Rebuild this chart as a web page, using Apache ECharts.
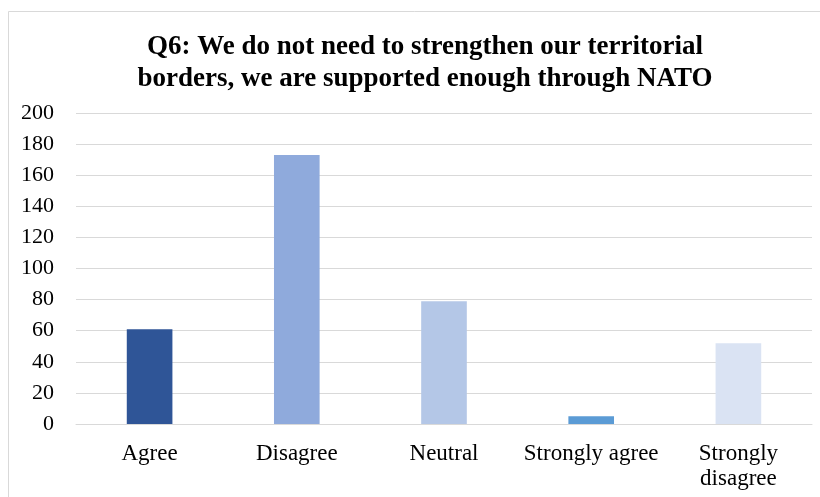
<!DOCTYPE html>
<html>
<head>
<meta charset="utf-8">
<script src="https://cdn.jsdelivr.net/npm/echarts@6/dist/echarts.min.js"></script>
<style>html,body{margin:0;padding:0;background:#fff}#c{width:820px;height:497px}</style>
</head>
<body>
<div id="c"></div>
<script>
const titleText = "Q6: We do not need to strengthen our territorial\nborders, we are supported enough through NATO";
const categories = ["Agree", "Disagree", "Neutral", "Strongly agree", "Strongly\ndisagree"];
const values = [61, 173, 79, 5, 52];
const barColors = ["#2F5597", "#8FAADC", "#B4C7E7", "#5B9BD5", "#DAE3F3"];
const yTicks = [0, 20, 40, 60, 80, 100, 120, 140, 160, 180, 200];

const chart = echarts.init(document.getElementById('c'), null, {renderer: 'canvas'});
const font = '"Liberation Serif", "Times New Roman", serif';
chart.setOption({
  animation: false,
  backgroundColor: '#fff',
  graphic: [{
    type: 'rect', shape: {x: 8.5, y: 11.5, width: 900, height: 600},
    style: {fill: 'none', stroke: '#d9d9d9', lineWidth: 1}, silent: true
  }],
  title: {
    text: titleText, left: 420, textAlign: 'center', top: 26,
    textStyle: {fontFamily: font, fontWeight: 'bold', fontSize: 27, lineHeight: 32, color: '#000'}
  },
  grid: {left: 76, right: 8, top: 113, bottom: 73, containLabel: false},
  xAxis: {
    type: 'category', data: categories,
    axisLine: {lineStyle: {color: '#d9d9d9', width: 1}},
    axisTick: {show: false},
    axisLabel: {fontFamily: font, fontSize: 23, color: '#000', margin: 17, lineHeight: 25, interval: 0}
  },
  yAxis: {
    type: 'value', min: yTicks[0], max: yTicks[yTicks.length - 1], interval: yTicks[1] - yTicks[0],
    axisLine: {show: false}, axisTick: {show: false},
    splitLine: {lineStyle: {color: '#d9d9d9', width: 1}},
    axisLabel: {fontFamily: font, fontSize: 22, color: '#000', margin: 22}
  },
  series: [{
    type: 'bar', barWidth: '31%',
    data: values.map((v, i) => ({value: v, itemStyle: {color: barColors[i]}}))
  }]
});
</script>
</body>
</html>
